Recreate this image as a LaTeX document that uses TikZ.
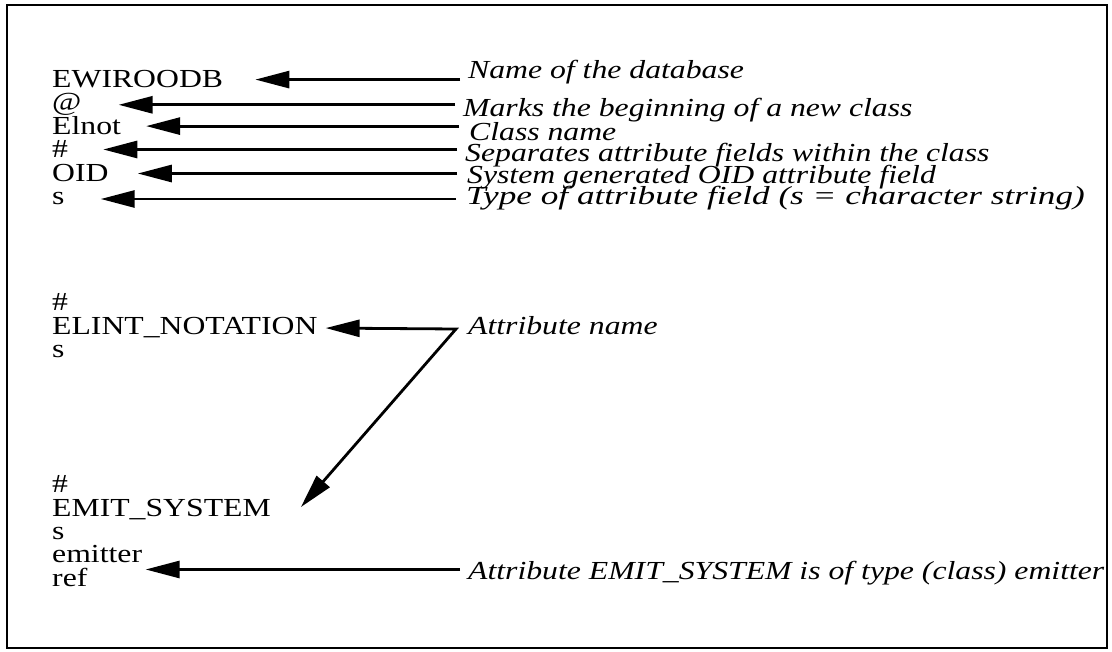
\documentclass[tikz,border=0pt]{standalone}
\usepackage{fontspec}
\setmainfont{Liberation Serif}[FakeStretch=1.22]
\usetikzlibrary{arrows.meta}
\begin{document}
\begin{tikzpicture}[x=1pt,y=-1pt,
  txt/.style={anchor=base west,inner sep=0pt,font=\fontsize{26}{28}\selectfont},
  lab/.style={txt,font=\fontsize{26}{28}\selectfont\itshape},
  arr/.style={line width=2.8pt,-{Triangle[length=34pt,width=17pt]}},
  arrtwo/.style={line width=2.8pt,{Triangle[length=34pt,width=17pt]}-{Triangle[length=34pt,width=17pt]},line join=miter}]
\useasboundingbox (0,0) rectangle (1112,652);
\draw[line width=2.6pt] (7,5) rectangle (1107,648);
% left column
\node[txt] (ewi) at (52,88) {EWIROODB};
\node[txt] (at) at (52,111) {@};
\node[txt] (eln) at (52,135) {Elnot};
\node[txt] (h1) at (52,158) {\#};
\node[txt] (oid) at (52,182) {OID};
\node[txt] (s1) at (52,205) {s};
\node[txt] (h2) at (52,311) {\#};
\node[txt] (elint) at (52,335) {ELINT\_NOTATION};
\node[txt] (s2) at (52,358) {s};
\node[txt] (h3) at (52,492) {\#};
\node[txt] (emit) at (52,516) {EMIT\_SYSTEM};
\node[txt] (s3) at (52,539) {s};
\node[txt] (emi) at (52,562) {emitter};
\node[txt] (ref) at (52,586) {ref};
% labels
\node[lab] (l1) at (468,79) {Name of the database};
\node[lab] (l2) at (463,117) {Marks the beginning of a new class};
\node[lab] (l3) at (469,141) {Class name};
\node[lab] (l4) at (465,162) {Separates attribute fields within the class};
\node[lab] (l5) at (467,184) {System generated OID attribute field};
\node[lab] (l6) at (466,205) {\scalebox{1.11}[1]{Type of attribute field (s = character string)}};
\node[lab] (l7) at (468,335) {Attribute name};
\node[lab] (l8) at (468,579) {Attribute EMIT\_SYSTEM is of type (class) emitter};
% arrows
\draw[arr] ([xshift=-8pt]l1.west |- ewi.east) -- ([xshift=32pt]ewi.east);
\draw[arr] ([xshift=-8pt]l2.west |- at.east) -- ([xshift=37pt]at.east);
\draw[arr] ([xshift=-10pt]l3.west |- eln.east) -- ([xshift=25pt]eln.east);
\draw[arr] ([xshift=-8pt]l4.west |- h1.east) -- ([xshift=35pt]h1.east);
\draw[arr] ([xshift=-10pt]l5.west |- oid.east) -- ([xshift=29pt]oid.east);
\draw[arr] ([xshift=-10pt]l6.west |- s1.east) -- ([xshift=36pt]s1.east);
\coordinate (v) at (456,329);
\draw[arrtwo] ([xshift=8pt]elint.east) -- (v) -- ([xshift=30pt,yshift=2pt]emit.east);
\draw[arr] ([xshift=-8pt,yshift=-2pt]l8.west |- ref.north east) -- ([xshift=58pt,yshift=-2pt]ref.north east);
\end{tikzpicture}
\end{document}
